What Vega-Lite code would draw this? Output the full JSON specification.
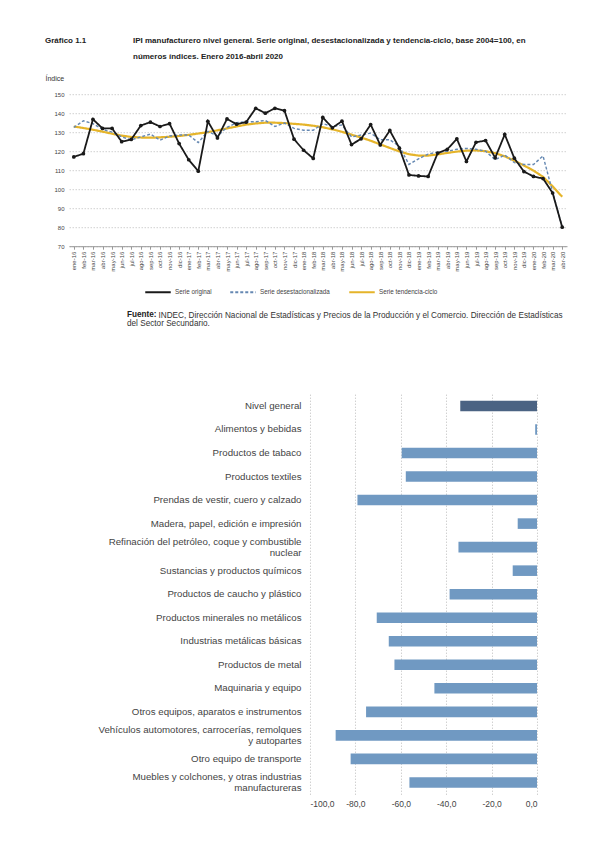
{
  "$schema": "https://vega.github.io/schema/vega-lite/v6.json",
  "padding": {"left": 45, "top": 37.2, "right": 5, "bottom": 5},
  "background": "white",
  "config": {
    "font": "Liberation Sans",
    "view": {"stroke": null}
  },
  "resolve": {"scale": {"color": "independent", "strokeDash": "independent"}, "legend": {"color": "independent", "strokeDash": "independent"}},
  "title": {
    "text": "Gráfico 1.1",
    "anchor": "start",
    "frame": "group",
    "dx": -24,
    "offset": -8,
    "font": "Liberation Sans",
    "fontSize": 8,
    "fontWeight": "bold",
    "color": "#222"
  },
  "spacing": 14,
  "vconcat": [
    {
      "width": 498,
      "height": 152,
      "title": {
        "text": ["IPI manufacturero nivel general. Serie original, desestacionalizada y tendencia-ciclo, base 2004=100, en", "números índices. Enero 2016-abril 2020"],
        "anchor": "start",
        "frame": "group",
        "dx": 64,
        "offset": 12.8,
        "font": "Liberation Sans",
        "fontSize": 8,
        "fontWeight": "bold",
        "lineHeight": 16,
        "color": "#222"
      },
      "data": {"values": [
        {"mes": "ene-16", "Serie original": 117, "Serie desestacionalizada": 132.5, "Serie tendencia-ciclo": 133},
        {"mes": "feb-16", "Serie original": 118.7, "Serie desestacionalizada": 136, "Serie tendencia-ciclo": 132.2},
        {"mes": "mar-16", "Serie original": 136.8, "Serie desestacionalizada": 134.5, "Serie tendencia-ciclo": 131.3},
        {"mes": "abr-16", "Serie original": 132, "Serie desestacionalizada": 131.5, "Serie tendencia-ciclo": 130.3},
        {"mes": "may-16", "Serie original": 132, "Serie desestacionalizada": 130, "Serie tendencia-ciclo": 129.2},
        {"mes": "jun-16", "Serie original": 125, "Serie desestacionalizada": 127.5, "Serie tendencia-ciclo": 128.2},
        {"mes": "jul-16", "Serie original": 126.2, "Serie desestacionalizada": 126, "Serie tendencia-ciclo": 127.5},
        {"mes": "ago-16", "Serie original": 133.5, "Serie desestacionalizada": 127.5, "Serie tendencia-ciclo": 127.2},
        {"mes": "sep-16", "Serie original": 135.3, "Serie desestacionalizada": 129, "Serie tendencia-ciclo": 127.1},
        {"mes": "oct-16", "Serie original": 133, "Serie desestacionalizada": 125.8, "Serie tendencia-ciclo": 127.3},
        {"mes": "nov-16", "Serie original": 134.5, "Serie desestacionalizada": 128, "Serie tendencia-ciclo": 127.6},
        {"mes": "dic-16", "Serie original": 124, "Serie desestacionalizada": 128.5, "Serie tendencia-ciclo": 128},
        {"mes": "ene-17", "Serie original": 115.5, "Serie desestacionalizada": 128.5, "Serie tendencia-ciclo": 128.6},
        {"mes": "feb-17", "Serie original": 109.5, "Serie desestacionalizada": 124.5, "Serie tendencia-ciclo": 129.3},
        {"mes": "mar-17", "Serie original": 135.7, "Serie desestacionalizada": 130.5, "Serie tendencia-ciclo": 130},
        {"mes": "abr-17", "Serie original": 127, "Serie desestacionalizada": 128, "Serie tendencia-ciclo": 131},
        {"mes": "may-17", "Serie original": 137, "Serie desestacionalizada": 132.5, "Serie tendencia-ciclo": 132},
        {"mes": "jun-17", "Serie original": 134.2, "Serie desestacionalizada": 135, "Serie tendencia-ciclo": 133},
        {"mes": "jul-17", "Serie original": 135.3, "Serie desestacionalizada": 135.5, "Serie tendencia-ciclo": 134},
        {"mes": "ago-17", "Serie original": 142.6, "Serie desestacionalizada": 135.5, "Serie tendencia-ciclo": 134.6},
        {"mes": "sep-17", "Serie original": 140, "Serie desestacionalizada": 136.2, "Serie tendencia-ciclo": 135},
        {"mes": "oct-17", "Serie original": 142.6, "Serie desestacionalizada": 133, "Serie tendencia-ciclo": 135},
        {"mes": "nov-17", "Serie original": 141.3, "Serie desestacionalizada": 134.8, "Serie tendencia-ciclo": 134.8},
        {"mes": "dic-17", "Serie original": 126.3, "Serie desestacionalizada": 132, "Serie tendencia-ciclo": 134.4},
        {"mes": "ene-18", "Serie original": 120.5, "Serie desestacionalizada": 131, "Serie tendencia-ciclo": 134},
        {"mes": "feb-18", "Serie original": 116.2, "Serie desestacionalizada": 131, "Serie tendencia-ciclo": 133.4},
        {"mes": "mar-18", "Serie original": 137.8, "Serie desestacionalizada": 134.5, "Serie tendencia-ciclo": 132.6},
        {"mes": "abr-18", "Serie original": 132.3, "Serie desestacionalizada": 133, "Serie tendencia-ciclo": 131.5},
        {"mes": "may-18", "Serie original": 135.8, "Serie desestacionalizada": 133.8, "Serie tendencia-ciclo": 130.2},
        {"mes": "jun-18", "Serie original": 123.5, "Serie desestacionalizada": 127.5, "Serie tendencia-ciclo": 128.7},
        {"mes": "jul-18", "Serie original": 126.5, "Serie desestacionalizada": 128.5, "Serie tendencia-ciclo": 127.2},
        {"mes": "ago-18", "Serie original": 134, "Serie desestacionalizada": 129.5, "Serie tendencia-ciclo": 125.5},
        {"mes": "sep-18", "Serie original": 123.3, "Serie desestacionalizada": 126, "Serie tendencia-ciclo": 123.6},
        {"mes": "oct-18", "Serie original": 130.9, "Serie desestacionalizada": 126, "Serie tendencia-ciclo": 121.7},
        {"mes": "nov-18", "Serie original": 121.6, "Serie desestacionalizada": 122.5, "Serie tendencia-ciclo": 119.9},
        {"mes": "dic-18", "Serie original": 107.5, "Serie desestacionalizada": 113, "Serie tendencia-ciclo": 118.4},
        {"mes": "ene-19", "Serie original": 107, "Serie desestacionalizada": 116, "Serie tendencia-ciclo": 117.7},
        {"mes": "feb-19", "Serie original": 106.7, "Serie desestacionalizada": 118.5, "Serie tendencia-ciclo": 117.7},
        {"mes": "mar-19", "Serie original": 119, "Serie desestacionalizada": 119.5, "Serie tendencia-ciclo": 118.3},
        {"mes": "abr-19", "Serie original": 121, "Serie desestacionalizada": 120, "Serie tendencia-ciclo": 119.1},
        {"mes": "may-19", "Serie original": 126.5, "Serie desestacionalizada": 121, "Serie tendencia-ciclo": 119.8},
        {"mes": "jun-19", "Serie original": 114.6, "Serie desestacionalizada": 121.5, "Serie tendencia-ciclo": 120.3},
        {"mes": "jul-19", "Serie original": 124.7, "Serie desestacionalizada": 121, "Serie tendencia-ciclo": 120.4},
        {"mes": "ago-19", "Serie original": 125.6, "Serie desestacionalizada": 120, "Serie tendencia-ciclo": 120},
        {"mes": "sep-19", "Serie original": 116.5, "Serie desestacionalizada": 115.5, "Serie tendencia-ciclo": 119},
        {"mes": "oct-19", "Serie original": 128.8, "Serie desestacionalizada": 118, "Serie tendencia-ciclo": 117.3},
        {"mes": "nov-19", "Serie original": 116.3, "Serie desestacionalizada": 114, "Serie tendencia-ciclo": 115},
        {"mes": "dic-19", "Serie original": 109.3, "Serie desestacionalizada": 113, "Serie tendencia-ciclo": 112.5},
        {"mes": "ene-20", "Serie original": 106.7, "Serie desestacionalizada": 113, "Serie tendencia-ciclo": 109.8},
        {"mes": "feb-20", "Serie original": 105.6, "Serie desestacionalizada": 117.5, "Serie tendencia-ciclo": 106.5},
        {"mes": "mar-20", "Serie original": 98, "Serie desestacionalizada": 98.5, "Serie tendencia-ciclo": 101.5},
        {"mes": "abr-20", "Serie original": 80, "Serie desestacionalizada": 80, "Serie tendencia-ciclo": 96}
      ]},
      "transform": [{"fold": ["Serie original", "Serie desestacionalizada", "Serie tendencia-ciclo"], "as": ["serie", "valor"]}],
      "encoding": {
        "x": {
          "field": "mes", "type": "ordinal", "sort": null,
          "scale": {"type": "point", "padding": 0.5},
          "axis": {"title": null, "labelAngle": 270, "labelFontSize": 6, "labelColor": "#444", "labelPadding": 2, "domainColor": "#999", "tickColor": "#999", "tickSize": 3, "grid": false}
        },
        "y": {
          "field": "valor", "type": "quantitative",
          "scale": {"domain": [70, 150], "nice": false, "zero": false},
          "axis": {"title": "Índice", "titleAngle": 0, "titleAlign": "left", "titleBaseline": "middle", "titleX": -24, "titleY": -16, "titleFontSize": 7, "titleFontWeight": "normal", "titleColor": "#333", "values": [70, 80, 90, 100, 110, 120, 130, 140, 150], "labelFontSize": 6, "labelColor": "#444", "labelPadding": 5, "domain": false, "ticks": false, "gridColor": "#c4c4c4", "gridDash": [1.5, 1.5], "gridWidth": 0.8}
        }
      },
      "layer": [
        {
          "transform": [{"filter": "datum.serie == 'Serie tendencia-ciclo'"}],
          "mark": {"type": "line", "strokeWidth": 2.2},
          "encoding": {
            "color": {"field": "serie", "type": "nominal", "scale": {"domain": ["Serie original", "Serie desestacionalizada", "Serie tendencia-ciclo"], "range": ["#1a1a1a", "#6588b2", "#e5b42a"]}, "legend": {"title": null, "orient": "none", "legendX": 75, "legendY": 184, "direction": "horizontal", "symbolType": "stroke", "symbolSize": 650, "symbolStrokeWidth": 2, "labelFontSize": 6.3, "labelColor": "#444", "labelOffset": 3, "columnPadding": 14}},
            "strokeDash": {"field": "serie", "type": "nominal", "scale": {"domain": ["Serie original", "Serie desestacionalizada", "Serie tendencia-ciclo"], "range": [[1, 0], [3, 2], [1, 0]]}, "legend": {"title": null, "orient": "none", "legendX": 75, "legendY": 184, "direction": "horizontal", "symbolType": "stroke", "symbolSize": 650, "symbolStrokeWidth": 2, "labelFontSize": 6.3, "labelColor": "#444", "labelOffset": 3, "columnPadding": 14}}
          }
        },
        {
          "transform": [{"filter": "datum.serie == 'Serie desestacionalizada'"}],
          "mark": {"type": "line", "strokeWidth": 1.4},
          "encoding": {
            "color": {"field": "serie", "type": "nominal"},
            "strokeDash": {"field": "serie", "type": "nominal"}
          }
        },
        {
          "transform": [{"filter": "datum.serie == 'Serie original'"}],
          "mark": {"type": "line", "strokeWidth": 1.8},
          "encoding": {
            "color": {"field": "serie", "type": "nominal"},
            "strokeDash": {"field": "serie", "type": "nominal"}
          }
        },
        {
          "transform": [{"filter": "datum.serie == 'Serie original'"}],
          "mark": {"type": "point", "filled": true, "size": 14, "opacity": 1, "color": "#1a1a1a"},
          "encoding": {}
        }
      ]
    },
    {
      "width": 468,
      "height": 400,
      "title": {
        "text": "Fuente:",
        "subtitle": "del Sector Secundario.",
        "anchor": "start",
        "frame": "group",
        "dx": 58,
        "offset": -18,
        "font": "Liberation Sans",
        "fontSize": 8.2,
        "fontWeight": "bold",
        "color": "#222",
        "subtitleFont": "Liberation Sans",
        "subtitleFontSize": 8.2,
        "subtitleFontWeight": "normal",
        "subtitleColor": "#333",
        "subtitlePadding": 0.5
      },
      "data": {"values": [
        {"rama": "Nivel general", "variacion": -33.8, "tipo": "general"},
        {"rama": "Alimentos y bebidas", "variacion": -0.8, "tipo": "rama"},
        {"rama": "Productos de tabaco", "variacion": -59.6, "tipo": "rama"},
        {"rama": "Productos textiles", "variacion": -57.8, "tipo": "rama"},
        {"rama": "Prendas de vestir, cuero y calzado", "variacion": -79.1, "tipo": "rama"},
        {"rama": "Madera, papel, edición e impresión", "variacion": -8.5, "tipo": "rama"},
        {"rama": "Refinación del petróleo, coque y combustible|nuclear", "variacion": -34.6, "tipo": "rama"},
        {"rama": "Sustancias y productos químicos", "variacion": -10.7, "tipo": "rama"},
        {"rama": "Productos de caucho y plástico", "variacion": -38.5, "tipo": "rama"},
        {"rama": "Productos minerales no metálicos", "variacion": -70.6, "tipo": "rama"},
        {"rama": "Industrias metálicas básicas", "variacion": -65.3, "tipo": "rama"},
        {"rama": "Productos de metal", "variacion": -62.8, "tipo": "rama"},
        {"rama": "Maquinaria y equipo", "variacion": -45.2, "tipo": "rama"},
        {"rama": "Otros equipos, aparatos e instrumentos", "variacion": -75.3, "tipo": "rama"},
        {"rama": "Vehículos automotores, carrocerías, remolques|y autopartes", "variacion": -88.7, "tipo": "rama"},
        {"rama": "Otro equipo de transporte", "variacion": -82.1, "tipo": "rama"},
        {"rama": "Muebles y colchones, y otras industrias|manufactureras", "variacion": -56.2, "tipo": "rama"}
      ]},
      "encoding": {
        "y": {
          "field": "rama", "type": "nominal", "sort": null,
          "scale": {"paddingInner": 0.55, "paddingOuter": 0.275},
          "axis": {"title": null, "offset": -241, "domain": false, "ticks": false, "labelFontSize": 9.7, "labelColor": "#444", "labelPadding": 9, "labelLimit": 260, "labelExpr": "split(datum.label, '|')", "labelLineHeight": 11, "labelOffset": {"condition": {"test": "indexof(datum.label, '|') >= 0", "value": -5.5}, "value": 0}}
        }
      },
      "layer": [
        {
          "mark": {"type": "bar"},
          "encoding": {
            "x": {
              "field": "variacion", "type": "quantitative",
              "scale": {"domain": [-100, 0], "range": [241, 468], "nice": false, "zero": false},
              "axis": {"title": "INDEC, Dirección Nacional de Estadísticas y Precios de la Producción y el Comercio. Dirección de Estadísticas", "titleX": 89, "titleY": -479, "titleAlign": "left", "titleBaseline": "middle", "titleAngle": 0, "titleFontSize": 8.2, "titleFontWeight": "normal", "titleColor": "#333", "titleLimit": 600, "values": [-100, -80, -60, -40, -20, 0], "labelExpr": "(datum.value < 0 ? '-' : '') + replace(format(abs(datum.value), '.1f'), '.', ',')", "domain": false, "ticks": false, "labelFontSize": 8.5, "labelColor": "#444", "labelPadding": 5, "gridColor": "#aaa", "gridDash": [1, 2], "gridWidth": 0.8}
            },
            "color": {"field": "tipo", "type": "nominal", "scale": {"domain": ["general", "rama"], "range": ["#4b6383", "#7099c2"]}, "legend": null}
          }
        },
        {
          "mark": {"type": "rule", "color": "#999", "strokeWidth": 1},
          "encoding": {"x": {"datum": 0}}
        }
      ]
    }
  ]
}
